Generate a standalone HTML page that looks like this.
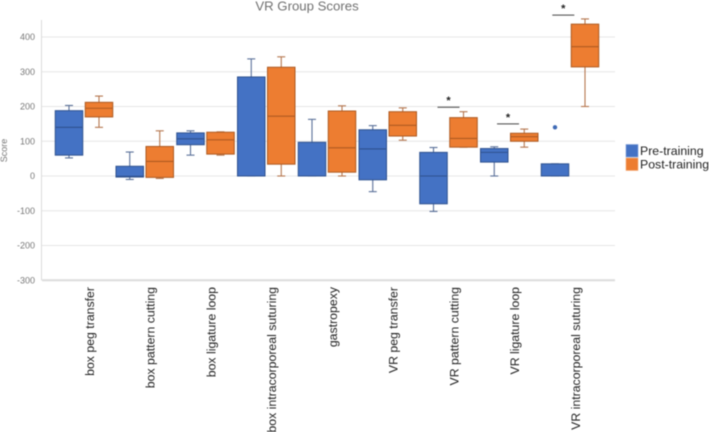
<!DOCTYPE html>
<html lang="en">
<head>
<meta charset="utf-8">
<title>VR Group Scores</title>
<style>
  html, body { margin: 0; padding: 0; background: #fff; width: 709px; height: 432px; overflow: hidden; }
  svg { display: block; filter: blur(0.45px); }
  text { font-family: "Liberation Sans", sans-serif; }
</style>
</head>
<body>
<svg id="chart" xmlns="http://www.w3.org/2000/svg" width="709" height="432" viewBox="0 0 709 432"></svg>
<script>
const categories = ["box peg transfer", "box pattern cutting", "box ligature loop", "box intracorporeal suturing", "gastropexy", "VR peg transfer", "VR pattern cutting", "VR ligature loop", "VR intracorporeal suturing"];
const yTicks = [400, 300, 200, 100, 0, -100, -200, -300];
const yTickLabels = ["400", "300", "200", "100", "0", "-100", "-200", "-300"];
const chartTitle = "VR Group Scores";
const yAxisTitle = "Score";
const seriesNames = ["Pre-training", "Post-training"];

const preLow = [52, -10, 60, 0, 0, -45, -102, 0, 0];
const preQ1 = [60, -3, 90, 0, 0, -11, -80, 40, 0];
const preMedian = [140, -1, 107, 0, 0, 78, 0, 68, 0];
const preQ3 = [188, 28, 124, 285, 97, 133, 68, 79, 35];
const preHigh = [203, 69, 130, 337, 163, 145, 82, 84, 35];
const preOutliers = [null, null, null, null, null, null, null, null, 140];

const postLow = [140, -7, 60, 0, 0, 103, 83, 83, 200];
const postQ1 = [170, -4, 63, 34, 11, 115, 83, 100, 314];
const postMedian = [195, 42, 104, 172, 81, 146, 108, 113, 372];
const postQ3 = [212, 85, 126, 313, 187, 185, 168, 123, 437];
const postHigh = [230, 130, 127, 343, 202, 196, 185, 135, 452];

const significantCategories = [6, 6.98, 7.89];
const significanceLevels = [198, 150, 463];

const svg = document.getElementById('chart');
const NS = 'http://www.w3.org/2000/svg';
const colors = {
  pre: { fill: '#4472C4', edge: '#2F528F', whisker: '#5A7099' },
  post: { fill: '#ED7D31', edge: '#AE5A21', whisker: '#B5764E' }
};

function yScale(v) { return 176 - v * 0.3475; }
function groupCenter(i) { return 84 + i * 60.75; }
function boxCenter(i, series) { return groupCenter(i) + (series === 'pre' ? -15 : 15); }

function make(tag, attrs, parent) {
  const el = document.createElementNS(NS, tag);
  Object.keys(attrs).forEach(function (k) { el.setAttribute(k, attrs[k]); });
  (parent || svg).appendChild(el);
  return el;
}

// Title
const titleEl = make('text', { x: 307, y: 10.5, 'text-anchor': 'middle', 'font-size': 13.2, fill: '#707070' });
titleEl.textContent = chartTitle;



// Y axis title
const yTitleEl = make('text', { transform: 'translate(4.5,150.5) rotate(-90)', 'text-anchor': 'middle', 'dominant-baseline': 'middle', 'font-size': 9, fill: '#777' });
yTitleEl.textContent = yAxisTitle;



// Gridlines and tick labels
yTicks.forEach(function (t, idx) {
  const isBase = idx === yTicks.length - 1;
  const line = make('line', { x1: 42, x2: 615, y1: yScale(t), y2: yScale(t), stroke: isBase ? '#dcdcdc' : '#e6e6e6', 'stroke-width': isBase ? 2 : 1 });
  
  
  const label = make('text', { x: 35, y: yScale(t) + 3.2, 'text-anchor': 'end', 'font-size': 9, fill: '#777' });
  label.textContent = yTickLabels[idx];
  
  
});

const yAxisLine = make('line', { x1: 41.5, x2: 41.5, y1: 20, y2: yScale(-300), stroke: '#dcdcdc', 'stroke-width': 1 });



// Category labels
categories.forEach(function (c, i) {
  const x = groupCenter(i) + 6.5;
  const label = make('text', { transform: 'translate(' + x + ',287) rotate(-90)', 'text-anchor': 'end', 'dominant-baseline': 'middle', 'font-size': 12.3, fill: '#222' });
  label.textContent = c;
  
  
});

// Box plots
function drawBox(i, series, low, q1, med, q3, high) {
  const c = colors[series];
  const cx = boxCenter(i, series);
  const w = 27.5;
  const g = make('g', {});
  
  
  make('line', { x1: cx, x2: cx, y1: yScale(q3), y2: yScale(high), stroke: c.whisker, 'stroke-width': 1.1 }, g);
  make('line', { x1: cx, x2: cx, y1: yScale(q1), y2: yScale(low), stroke: c.whisker, 'stroke-width': 1.1 }, g);
  make('line', { x1: cx - 4, x2: cx + 4, y1: yScale(high), y2: yScale(high), stroke: c.whisker, 'stroke-width': 1.1 }, g);
  make('line', { x1: cx - 4, x2: cx + 4, y1: yScale(low), y2: yScale(low), stroke: c.whisker, 'stroke-width': 1.1 }, g);
  make('rect', { x: cx - w / 2, y: yScale(q3), width: w, height: yScale(q1) - yScale(q3), fill: c.fill, stroke: c.edge, 'stroke-width': 1 }, g);
  make('line', { x1: cx - w / 2, x2: cx + w / 2, y1: yScale(med), y2: yScale(med), stroke: c.edge, 'stroke-width': 1.1 }, g);
}

categories.forEach(function (c, i) {
  drawBox(i, 'pre', preLow[i], preQ1[i], preMedian[i], preQ3[i], preHigh[i]);
  drawBox(i, 'post', postLow[i], postQ1[i], postMedian[i], postQ3[i], postHigh[i]);
  if (preOutliers[i] !== null) {
    const dot = make('circle', { cx: boxCenter(i, 'pre'), cy: yScale(preOutliers[i]), r: 2.2, fill: '#3F6AB5' });
    
    
  }
});

// Significance markers
significantCategories.forEach(function (catPos, k) {
  const cx = groupCenter(catPos);
  const yy = yScale(significanceLevels[k]);
  const bar = make('line', { x1: cx - 11, x2: cx + 11, y1: yy, y2: yy, stroke: '#444', 'stroke-width': 1 });
  
  
  const star = make('text', { x: cx, y: yy - 3, 'text-anchor': 'middle', 'font-size': 11, 'font-weight': 'bold', fill: '#222' });
  star.textContent = '*';
  
  
});

// Legend
seriesNames.forEach(function (name, i) {
  const key = i === 0 ? 'pre' : 'post';
  const top = 144.5 + i * 13.5;
  const swatch = make('rect', { x: 626, y: top, width: 12, height: 12.5, fill: colors[key].fill, stroke: i === 0 ? '#7f9fd8' : '#f4ad7c', 'stroke-width': 0.6 });
  
  
  const text = make('text', { x: 640, y: top + 10.5, 'font-size': 12.3, fill: '#222' });
  text.textContent = name;
  
  
});
</script>
</body>
</html>
